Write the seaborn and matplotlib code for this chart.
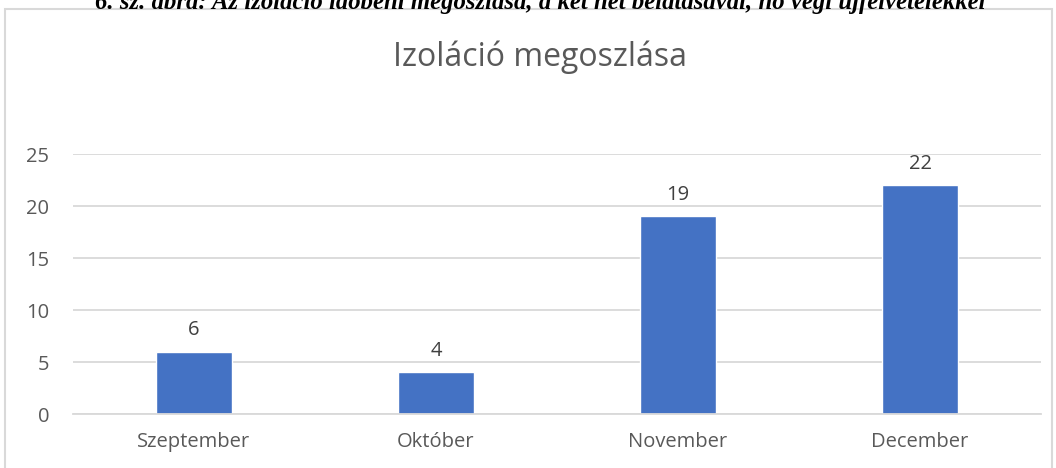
import matplotlib
matplotlib.use("Agg")
import matplotlib.pyplot as plt
import seaborn as sns
import pandas as pd
from matplotlib.patches import Rectangle

# data
months = ["Szeptember", "Október", "November", "December"]
counts = [6, 4, 19, 22]
yticks = [0, 5, 10, 15, 20, 25]

title = "Izoláció megoszlása"
caption = "6. sz. ábra: Az izoláció időbeni megoszlása, a két hét belátásával, hó végi újfelvételekkel"

sns.set_theme(style="white")
plt.rcParams["font.family"] = ["Open Sans", "DejaVu Sans"]

W, H = 1056, 468
fig = plt.figure(figsize=(W / 100, H / 100), dpi=100)
fig.patch.set_facecolor("white")

# chart frame (light gray), bottom runs off the image
fig.patches.append(Rectangle((5 / W, -0.05), 1047 / W, 1.05 - 9 / H,
                             transform=fig.transFigure, fill=False,
                             edgecolor="#D9D9D9", linewidth=1.5))

# caption above the frame, cut at the top edge like the source
fig.text(0.512, 1 - 9 / H, caption, ha="center", va="baseline",
         family="Liberation Serif", weight="bold", style="italic",
         fontsize=17.8, color="black")

ax = fig.add_axes([73 / W, 1 - 414 / H, 968 / W, 260 / H])
df = pd.DataFrame({"month": months, "count": counts})
sns.barplot(data=df, x="month", y="count", color="#4472C4", width=0.31,
            saturation=1, ax=ax)

ax.set_ylim(0, 25)
ax.set_xlim(-0.5, len(months) - 0.5)
ax.set_yticks(yticks)
ax.yaxis.grid(True, color="#D9D9D9", linewidth=1.3)
ax.set_axisbelow(True)
for s in ["top", "right", "left"]:
    ax.spines[s].set_visible(False)
ax.spines["bottom"].set_color("#D9D9D9")
ax.spines["bottom"].set_linewidth(1.3)
ax.tick_params(axis="both", length=0, labelsize=14.5, labelcolor="#595959")
ax.tick_params(axis="y", pad=17)
ax.tick_params(axis="x", pad=13)
ax.set_xlabel("")
ax.set_ylabel("")

for c in ax.containers:
    ax.bar_label(c, padding=8, fontsize=14.5, color="#404040")

fig.text(540 / W, 1 - 57 / H, title, ha="center", va="center",
         fontsize=23, color="#595959")

fig.savefig("out.png", dpi=100, facecolor="white")
